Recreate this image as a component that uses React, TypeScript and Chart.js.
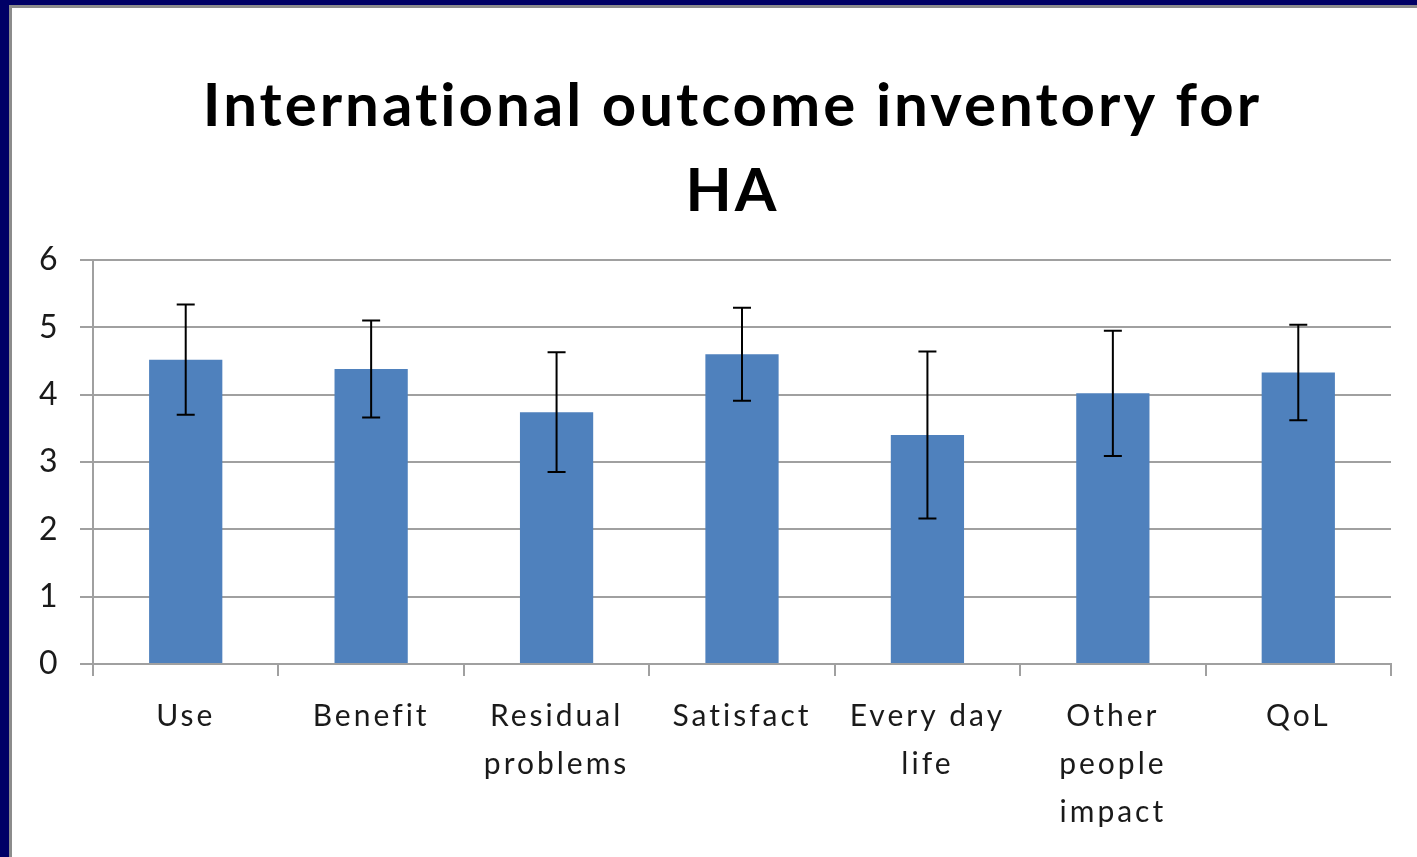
import React, { useEffect, useRef } from "react";
import { Chart, registerables } from "chart.js";

Chart.register(...registerables);

const categories: (string | string[])[] = [
  "Use",
  "Benefit",
  ["Residual", "problems"],
  "Satisfact",
  ["Every day", "life"],
  ["Other", "people", "impact"],
  "QoL",
];
const means = [4.52, 4.38, 3.74, 4.6, 3.4, 4.02, 4.33];
const errors = [0.82, 0.72, 0.89, 0.69, 1.24, 0.93, 0.71];
const yTicks = [0, 1, 2, 3, 4, 5, 6];
const titleLines = ["International outcome inventory for", "HA"];

const spacingPlugin = {
  id: "spacing",
  beforeInit(chart: any) {
    chart.ctx.letterSpacing = "3px";
  },
  beforeLayout(chart: any) {
    chart.ctx.letterSpacing = "3px";
  },
  beforeDraw(chart: any) {
    chart.ctx.letterSpacing = "3px";
  },
};

const errorBarPlugin = {
  id: "errorBars",
  afterDatasetsDraw(chart: any) {
    const ctx = chart.ctx;
    const xs = chart.scales.x;
    const ys = chart.scales.y;
    ctx.save();
    ctx.strokeStyle = "#000000";
    ctx.lineWidth = 2;
    means.forEach((m, i) => {
      const x = xs.getPixelForValue(i);
      const yt = ys.getPixelForValue(m + errors[i]);
      const yb = ys.getPixelForValue(m - errors[i]);
      ctx.beginPath();
      ctx.moveTo(x, yt);
      ctx.lineTo(x, yb);
      ctx.moveTo(x - 9, yt);
      ctx.lineTo(x + 9, yt);
      ctx.moveTo(x - 9, yb);
      ctx.lineTo(x + 9, yb);
      ctx.stroke();
    });
    ctx.restore();
  },
};

export default function App() {
  const ref = useRef<HTMLCanvasElement>(null);
  useEffect(() => {
    const chart = new Chart(ref.current!, {
      type: "bar",
      data: {
        labels: categories as any,
        datasets: [
          {
            data: means,
            backgroundColor: "#4f81bd",
            categoryPercentage: 1,
            barPercentage: 0.395,
          },
        ],
      },
      options: {
        animation: false,
        responsive: false,
        devicePixelRatio: 1,
        layout: { padding: { left: 62, right: 26, top: 0, bottom: 0 } },
        plugins: {
          legend: { display: false },
          tooltip: { enabled: false },
          title: {
            display: true,
            text: titleLines,
            color: "#000000",
            font: { family: "Lato", size: 60, weight: "bold", lineHeight: 1.4167 },
            padding: { top: 56, bottom: 26 },
          },
        },
        scales: {
          x: {
            afterFit(scale: any) {
              scale.height = 193;
            },
            grid: {
              display: true,
              drawOnChartArea: false,
              offset: true,
              color: "#a0a0a0",
              lineWidth: 2,
              tickLength: 12,
            },
            border: { display: true, color: "#a0a0a0", width: 2 },
            ticks: {
              color: "#1a1a1a",
              font: { family: "Lato", size: 30, lineHeight: 1.6 },
              padding: 16,
              maxRotation: 0,
              autoSkip: false,
            },
          },
          y: {
            min: 0,
            max: 6,
            afterBuildTicks(scale: any) {
              scale.ticks = yTicks.map((v) => ({ value: v }));
            },
            afterFit(scale: any) {
              scale.width = 19;
            },
            grid: { color: "#a0a0a0", lineWidth: 2, tickLength: 13 },
            border: { display: true, color: "#a0a0a0", width: 2 },
            ticks: {
              color: "#1a1a1a",
              font: { family: "Lato", size: 32 },
              mirror: true,
              crossAlign: "far",
              padding: -54,
            },
          },
        },
      },
      plugins: [spacingPlugin, errorBarPlugin],
    });
    return () => chart.destroy();
  }, []);

  return (
    <div
      style={{
        position: "fixed",
        left: 0,
        top: 0,
        width: 1417,
        height: 857,
        background: "#000066",
        overflow: "hidden",
      }}
    >
      <div
        style={{
          position: "absolute",
          left: 9,
          top: 5,
          width: 1408,
          height: 852,
          background: "#8c8c8c",
        }}
      />
      <div
        style={{
          position: "absolute",
          left: 12,
          top: 8,
          width: 1405,
          height: 849,
          background: "#ffffff",
        }}
      >
        <canvas ref={ref} width={1405} height={849} style={{ display: "block" }} />
      </div>
    </div>
  );
}
